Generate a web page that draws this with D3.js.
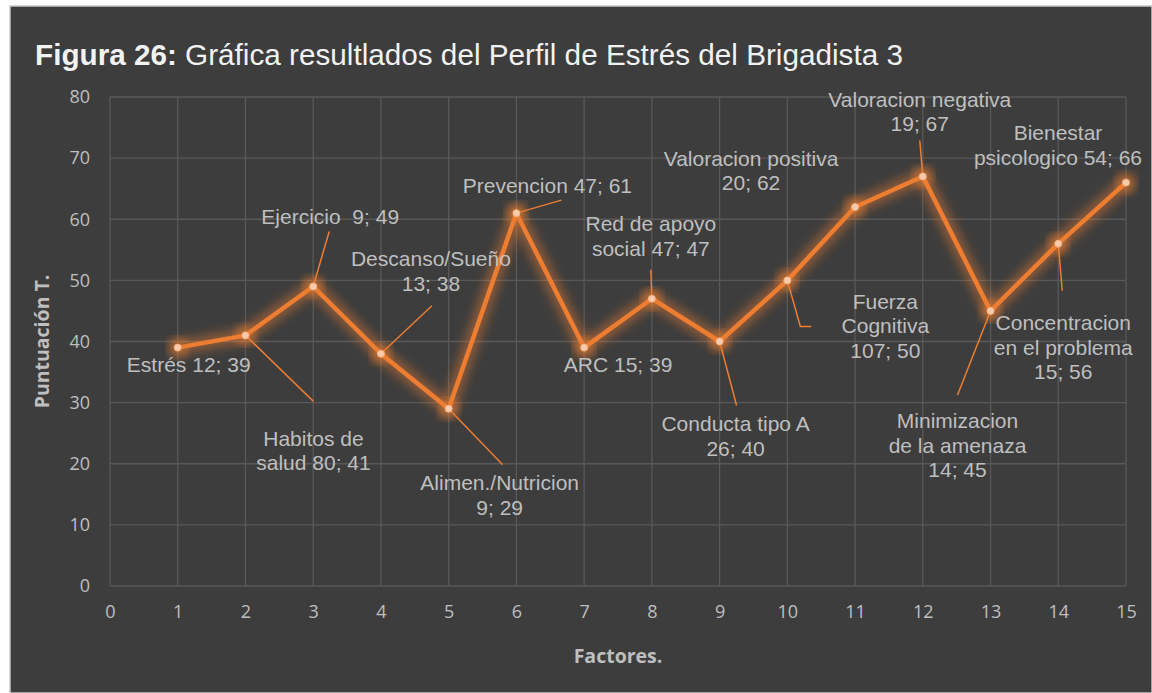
<!DOCTYPE html>
<html>
<head>
<meta charset="utf-8">
<script src="https://cdn.jsdelivr.net/npm/d3@7"></script>
<style>
  html, body { margin: 0; padding: 0; background: #ffffff; }
  svg { display: block; }
  .tick text { font-family: "Open Sans", "Noto Sans", sans-serif; }
</style>
</head>
<body>
<div id="chart"></div>
<script>
// data
var factores = [1, 2, 3, 4, 5, 6, 7, 8, 9, 10, 11, 12, 13, 14, 15];
var puntuacion = [39, 41, 49, 38, 29, 61, 39, 47, 40, 50, 62, 67, 45, 56, 66];
var etiquetas = [
    ["Estrés 12; 39"],
    ["Habitos de", "salud 80; 41"],
    ["Ejercicio  9; 49"],
    ["Descanso/Sueño", "13; 38"],
    ["Alimen./Nutricion", "9; 29"],
    ["Prevencion 47; 61"],
    ["ARC 15; 39"],
    ["Red de apoyo", "social 47; 47"],
    ["Conducta tipo A", "26; 40"],
    ["Fuerza", "Cognitiva", "107; 50"],
    ["Valoracion positiva", "20; 62"],
    ["Valoracion negativa", "19; 67"],
    ["Minimizacion", "de la amenaza", "14; 45"],
    ["Concentracion", "en el problema", "15; 56"],
    ["Bienestar", "psicologico 54; 66"]
];
var xTicks = d3.range(0, 16);
var yTicks = [0, 10, 20, 30, 40, 50, 60, 70, 80];

// label placement in pixels relative to the point: [dx, dy of first line centre], leader end(s)
var labelLayout = [
    { dx: 11, dy: 17, leader: null },
    { dx: 68, dy: 103, leader: [[68, 66]] },
    { dx: 17, dy: -70, leader: [[16, -55]] },
    { dx: 50, dy: -95, leader: [[51, -48]] },
    { dx: 51, dy: 74, leader: [[54, 56]] },
    { dx: 31, dy: -28, leader: [[45, -13]] },
    { dx: 34, dy: 17, leader: null },
    { dx: -1, dy: -75, leader: [[-1, -29]] },
    { dx: 16, dy: 82, leader: [[17, 64]] },
    { dx: 98, dy: 21, leader: [[13, 46], [24, 46]] },
    { dx: -104, dy: -49, leader: null },
    { dx: -3, dy: -77, leader: [[-3, -36]] },
    { dx: -33, dy: 110, leader: [[-33, 84]] },
    { dx: 5, dy: 79, leader: [[4, 47]] },
    { dx: -68, dy: -50, leader: null }
];

var width = 1152, height = 693;
var margin = { top: 97, right: 26, bottom: 107, left: 110 };
var plotW = width - margin.left - margin.right,
    plotH = height - margin.top - margin.bottom;

var svg = d3.select("#chart").append("svg")
    .attr("width", width)
    .attr("height", height);

// background card
svg.append("rect")
    .attr("x", 10).attr("y", 6)
    .attr("width", width - 10).attr("height", height - 6)
    .attr("fill", "#3d3d3d")
    .attr("stroke", "#c8c8c8")
    .attr("stroke-width", 1.5);

// glow filter
var defs = svg.append("defs");
var glow = defs.append("filter").attr("id", "glow")
    .attr("x", "-20%").attr("y", "-20%").attr("width", "140%").attr("height", "140%");
glow.append("feGaussianBlur").attr("in", "SourceGraphic").attr("stdDeviation", 5.5).attr("result", "blur");
var merge = glow.append("feMerge");
merge.append("feMergeNode").attr("in", "blur");

var xScale = d3.scaleLinear().domain([0, 15]).range([0, plotW]);
var yScale = d3.scaleLinear().domain([0, 80]).range([plotH, 0]);

var g = svg.append("g")
    .attr("transform", "translate(" + margin.left + "," + margin.top + ")");

// gridlines
g.append("g").selectAll("line.h")
    .data(yTicks).enter().append("line")
    .attr("x1", 0).attr("x2", plotW)
    .attr("y1", d => yScale(d)).attr("y2", d => yScale(d))
    .attr("stroke", "#595959").attr("stroke-width", 1.3);

g.append("g").selectAll("line.v")
    .data(xTicks).enter().append("line")
    .attr("y1", 0).attr("y2", plotH)
    .attr("x1", d => xScale(d)).attr("x2", d => xScale(d))
    .attr("stroke", "#595959").attr("stroke-width", 1.3);

// axes (tick labels only)
var xAxis = d3.axisBottom(xScale).tickValues(xTicks).tickSize(0).tickPadding(19);
var yAxis = d3.axisLeft(yScale).tickValues(yTicks).tickSize(0).tickPadding(20);

var gx = g.append("g")
    .attr("transform", "translate(0," + plotH + ")")
    .call(xAxis);
var gy = g.append("g").call(yAxis);
[gx, gy].forEach(function(a) {
    a.select(".domain").remove();
    a.selectAll("text")
        .attr("fill", "#bfbfbf")
        .style("font-size", "18px");
});

var series = factores.map((f, i) => ({ x: f, y: puntuacion[i] }));

var line = d3.line()
    .x(d => xScale(d.x))
    .y(d => yScale(d.y));

// glow under the line
g.append("path")
    .datum(series)
    .attr("fill", "none")
    .attr("stroke", "#ed7d31")
    .attr("stroke-opacity", 0.5)
    .attr("stroke-width", 13)
    .attr("stroke-linejoin", "round")
    .attr("filter", "url(#glow)")
    .attr("d", line);

g.append("g").selectAll("circle.glow")
    .data(series).enter().append("circle")
    .attr("cx", d => xScale(d.x)).attr("cy", d => yScale(d.y))
    .attr("r", 9)
    .attr("fill", "#ed7d31")
    .attr("fill-opacity", 0.7)
    .attr("filter", "url(#glow)");

// leader lines
series.forEach(function(d, i) {
    var L = labelLayout[i];
    if (!L.leader) return;
    var px = xScale(d.x), py = yScale(d.y);
    var pts = [[px, py]].concat(L.leader.map(p => [px + p[0], py + p[1]]));
    g.append("path")
        .attr("d", d3.line()(pts))
        .attr("fill", "none")
        .attr("stroke", "#ed7d31")
        .attr("stroke-width", 1.5);
});

// main line
g.append("path")
    .datum(series)
    .attr("fill", "none")
    .attr("stroke", "#ed7d31")
    .attr("stroke-width", 4.5)
    .attr("stroke-linejoin", "round")
    .attr("d", line);

// markers
g.append("g").selectAll("circle.m")
    .data(series).enter().append("circle")
    .attr("cx", d => xScale(d.x)).attr("cy", d => yScale(d.y))
    .attr("r", 3.5)
    .attr("fill", "#f8cbad")
    .attr("stroke", "#f4b183")
    .attr("stroke-width", 1);

// data labels
series.forEach(function(d, i) {
    var L = labelLayout[i];
    var px = xScale(d.x), py = yScale(d.y);
    var t = g.append("text")
        .attr("text-anchor", "middle")
        .attr("fill", "#bfbfbf")
        .style("font-family", "'Liberation Sans', Arial, sans-serif")
        .style("font-size", "21px")
        .style("white-space", "pre")
        .attr("xml:space", "preserve");
    etiquetas[i].forEach(function(s, k) {
        t.append("tspan")
            .attr("x", px + L.dx)
            .attr("y", py + L.dy + 7.5 + k * 24.5)
            .text(s);
    });
});

// title
var title = svg.append("text")
    .attr("x", 35).attr("y", 65)
    .attr("fill", "#f2f2f2")
    .style("font-family", "'Liberation Sans', Arial, sans-serif")
    .style("font-size", "29.7px");
title.append("tspan").style("font-weight", "bold").text("Figura 26:");
title.append("tspan").text(" Gráfica resultlados del Perfil de Estrés del Brigadista 3");

// axis titles
svg.append("text")
    .attr("transform", "rotate(-90)")
    .attr("x", -(margin.top + plotH / 2))
    .attr("y", 49)
    .attr("text-anchor", "middle")
    .attr("fill", "#bfbfbf")
    .style("font-family", "'Open Sans', 'Noto Sans', sans-serif")
    .style("font-weight", "bold")
    .style("font-size", "19.5px")
    .text("Puntuación T.");

svg.append("text")
    .attr("x", margin.left + plotW / 2)
    .attr("y", 663)
    .attr("text-anchor", "middle")
    .attr("fill", "#bfbfbf")
    .style("font-family", "'Open Sans', 'Noto Sans', sans-serif")
    .style("font-weight", "bold")
    .style("font-size", "19.5px")
    .text("Factores.");
</script>
</body>
</html>
